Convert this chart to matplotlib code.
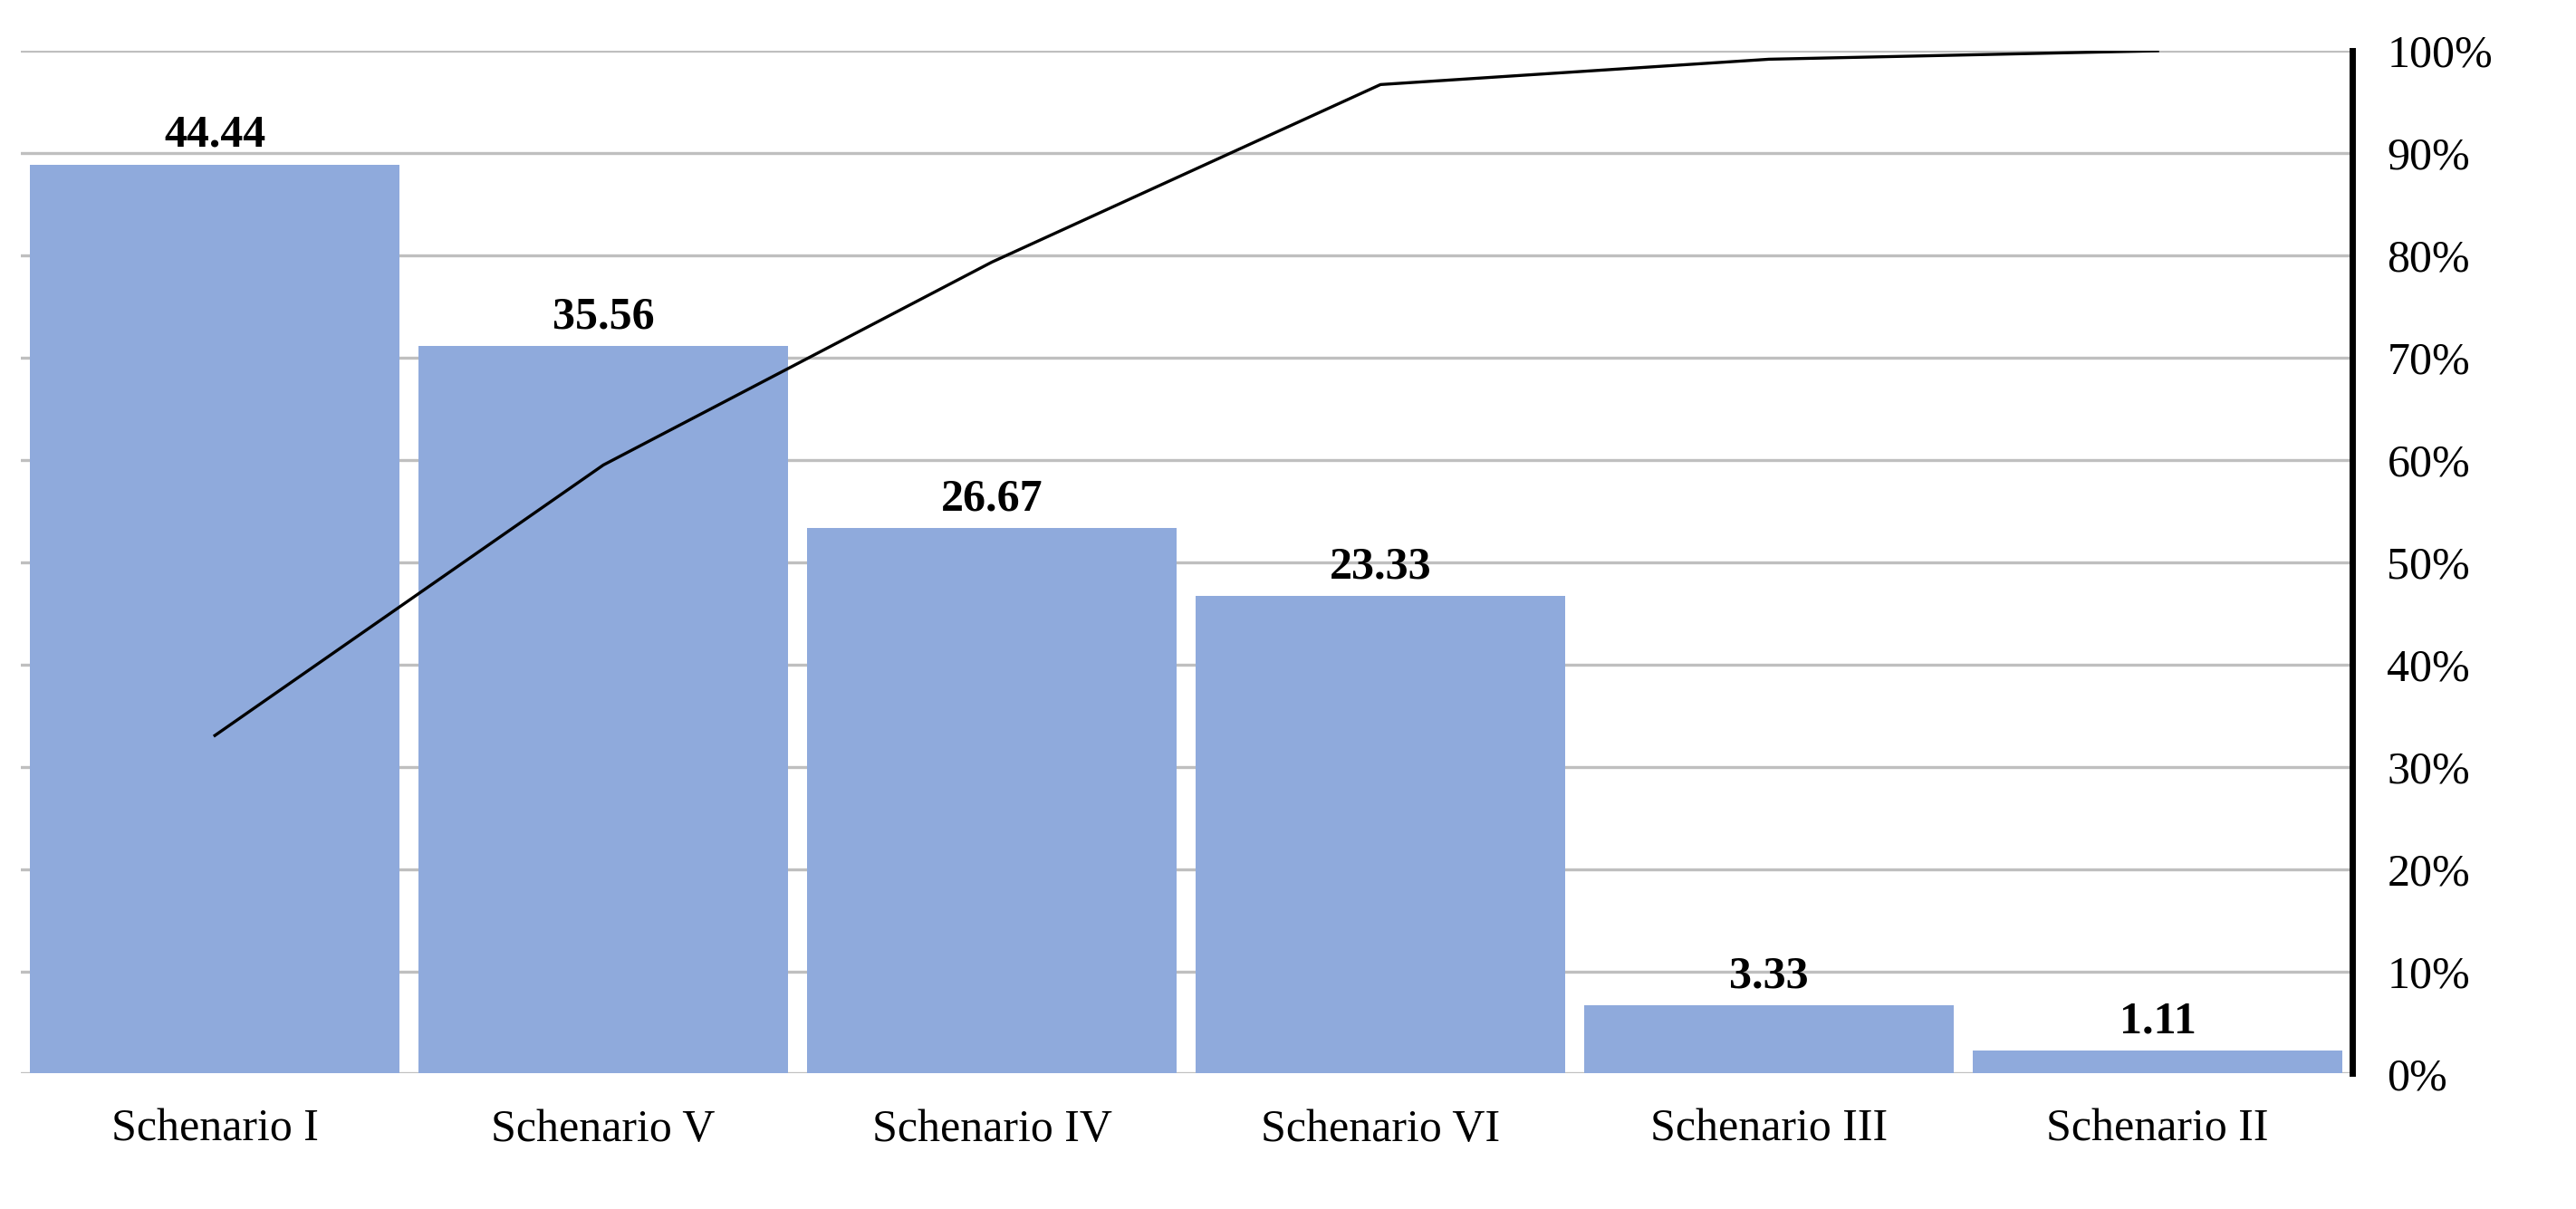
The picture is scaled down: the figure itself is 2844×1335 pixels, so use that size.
import numpy as np
import matplotlib.pyplot as plt

# Data
categories = ['Schenario I', 'Schenario V', 'Schenario IV', 'Schenario VI', 'Schenario III', 'Schenario II']
values = [44.44, 35.56, 26.67, 23.33, 3.33, 1.11]

cum_pct = np.cumsum(values) / np.sum(values) * 100

plt.rcParams['font.family'] = ['Liberation Serif', 'DejaVu Serif']

fig, ax = plt.subplots(figsize=(14.22, 6.675), dpi=200)
plt.subplots_adjust(left=0.008, right=0.913, bottom=0.112, top=0.958)

x = np.arange(len(categories))
bars = ax.bar(x, values, width=0.95, color='#8FAADC', zorder=2)
for b, v in zip(bars, values):
    ax.text(b.get_x() + b.get_width() / 2, v + 0.4, f'{v:.2f}', ha='center', va='bottom',
            fontsize=18, fontweight='bold')

ax.set_ylim(0, 50)
ax.set_yticks(np.arange(0, 51, 5))
ax.set_yticklabels([])
ax.tick_params(axis='y', length=0)
ax.yaxis.grid(True, color='#BFBFBF', linewidth=1.2, zorder=0)
ax.set_xlim(-0.5, len(categories) - 0.5)
ax.set_xticks(x)
ax.set_xticklabels(categories, fontsize=18)
ax.tick_params(axis='x', length=0, pad=14)
for s in ['top', 'left', 'right', 'bottom']:
    ax.spines[s].set_visible(False)

ax2 = ax.twinx()
ax2.plot(x, cum_pct, color='black', linewidth=1.2)
ax2.set_ylim(0, 100)
ax2.set_yticks(np.arange(0, 101, 10))
ax2.set_yticklabels([f'{t}%' for t in range(0, 101, 10)], fontsize=18)
ax2.tick_params(axis='y', length=0, pad=14)
for s in ['top', 'left', 'bottom']:
    ax2.spines[s].set_visible(False)
ax2.spines['right'].set_linewidth(2.5)

fig.savefig('out.png')
